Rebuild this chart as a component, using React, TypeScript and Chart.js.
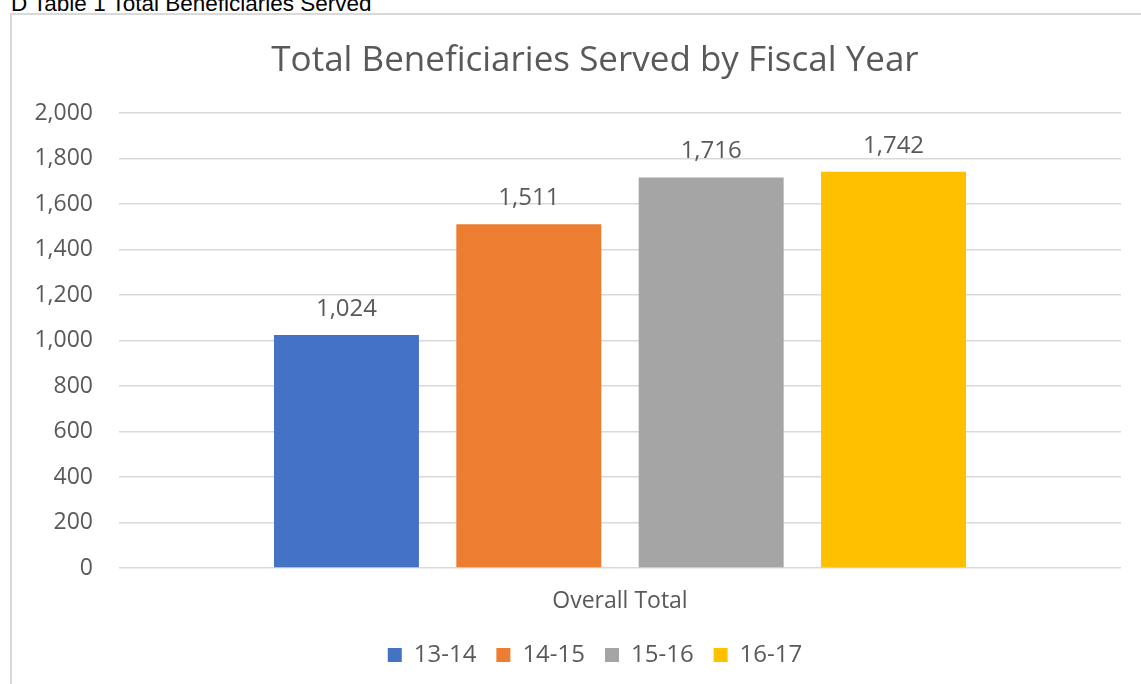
import React, { useEffect, useRef } from "react";
import { Chart, registerables } from "chart.js";

Chart.register(...registerables);

const categories = ["Overall Total"];
const seriesNames = ["13-14", "14-15", "15-16", "16-17"];
const seriesValues = [[1024], [1511], [1716], [1742]];
const seriesColors = ["#4472C4", "#ED7D31", "#A5A5A5", "#FFC000"];
const yTicks = [0, 200, 400, 600, 800, 1000, 1200, 1400, 1600, 1800, 2000];

const FONT = "'Open Sans', 'Noto Sans', sans-serif";
const TEXT = "#595959";

const fmt = (v: number) => v.toLocaleString("en-US");

const dataLabelPlugin = {
  id: "dataLabels",
  afterDatasetsDraw(chart: any) {
    const { ctx } = chart;
    ctx.save();
    ctx.font = `24px ${FONT}`;
    ctx.fillStyle = TEXT;
    ctx.textAlign = "center";
    ctx.textBaseline = "middle";
    chart.data.datasets.forEach((ds: any, i: number) => {
      const meta = chart.getDatasetMeta(i);
      meta.data.forEach((bar: any, j: number) => {
        ctx.fillText(fmt(ds.data[j]), bar.x, bar.y - 26);
      });
    });
    ctx.restore();
  },
};

export default function App() {
  const ref = useRef<HTMLCanvasElement>(null);
  useEffect(() => {
    if (!ref.current) return;
    const chart = new Chart(ref.current, {
      type: "bar",
      data: {
        labels: categories,
        datasets: seriesNames.map((n, i) => ({
          label: n,
          data: seriesValues[i],
          backgroundColor: seriesColors[i],
          borderWidth: 0,
          categoryPercentage: 0.728,
          barPercentage: 0.795,
          yAxisID: "y",
        })),
      },
      options: {
        responsive: false,
        animation: false,
        devicePixelRatio: 1,
        layout: { padding: { left: 0, right: 0, top: 0, bottom: 8 } },
        plugins: {
          title: {
            display: true,
            text: "Total Beneficiaries Served by Fiscal Year",
            color: TEXT,
            font: { family: FONT, size: 35, weight: "normal" },
            padding: { top: 25, bottom: 31 },
          },
          legend: {
            display: true,
            position: "bottom",
            labels: {
              color: TEXT,
              font: { family: FONT, size: 24 },
              boxWidth: 14,
              boxHeight: 14,
              padding: 20,
            },
          },
          tooltip: { enabled: false },
        },
        scales: {
          x: {
            grid: { display: false, drawTicks: false },
            border: { display: false },
            ticks: { color: TEXT, font: { family: FONT, size: 23 }, padding: 20 },
            afterFit: (s: any) => {
              s.height = 55;
            },
          },
          y: {
            position: "left",
            min: 0,
            max: 2000,
            afterBuildTicks: (s: any) => {
              s.ticks = yTicks.map((v) => ({ value: v }));
            },
            grid: { color: "#d9d9d9", lineWidth: 1.5, drawTicks: false },
            border: { display: false },
            ticks: {
              color: TEXT,
              font: { family: FONT, size: 23 },
              padding: 26,
              callback: (v: any) => fmt(Number(v)),
            },
            afterFit: (s: any) => {
              s.width = 107;
            },
          },
          yRight: {
            position: "right",
            min: 0,
            max: 2000,
            grid: { display: false, drawTicks: false },
            border: { display: false },
            ticks: { display: false },
            afterFit: (s: any) => {
              s.width = 57;
            },
          },
        },
      },
      plugins: [dataLabelPlugin],
    });
    return () => chart.destroy();
  }, []);

  return (
    <div style={{ position: "fixed", left: 0, top: 0, width: 1141, height: 684, overflow: "hidden", background: "#fff" }}>
      <div
        style={{
          position: "absolute",
          left: 11,
          top: -7,
          fontFamily: "'Liberation Sans', Arial, sans-serif",
          fontSize: 22.5,
          lineHeight: 1,
          color: "#000",
          whiteSpace: "nowrap",
        }}
      >
        D Table 1 Total Beneficiaries Served
      </div>
      <div
        style={{
          position: "absolute",
          left: 10,
          top: 13,
          borderLeft: "2px solid #d9d9d9",
          borderTop: "2px solid #d9d9d9",
          width: 1200,
          height: 700,
        }}
      >
        <canvas ref={ref} width={1166} height={670} style={{ display: "block" }} />
      </div>
    </div>
  );
}
